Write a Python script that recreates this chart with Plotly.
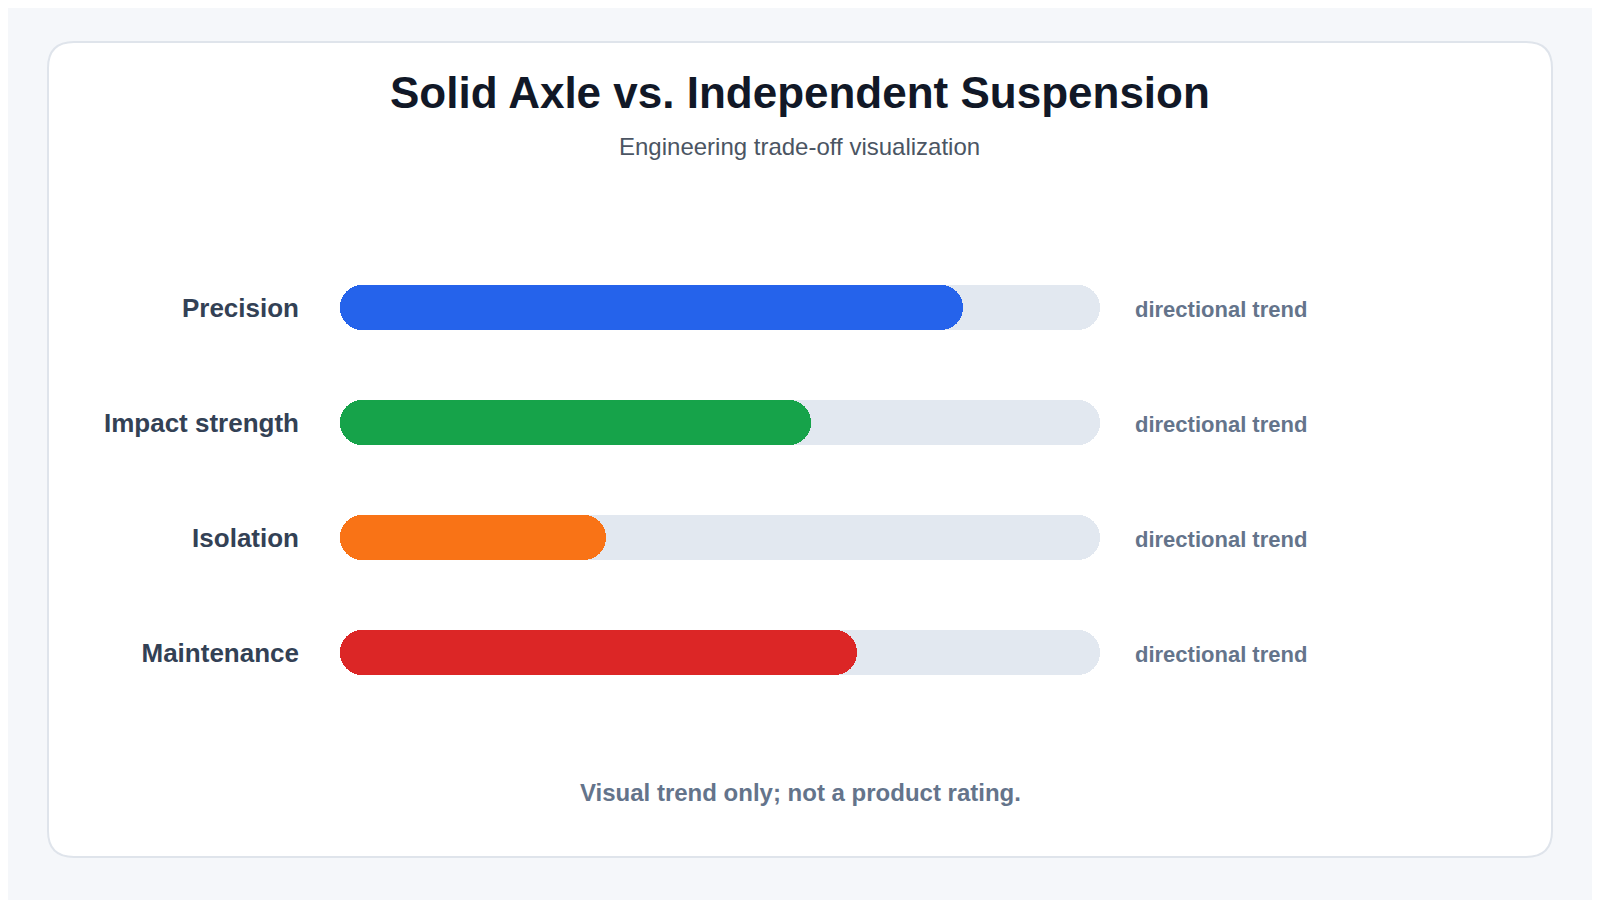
import plotly.graph_objects as go

# Data (share of the track, 0-100)
categories = ["Precision", "Impact strength", "Isolation", "Maintenance"]
values = [82, 62, 35, 68]
colors = ["#2563eb", "#16a34a", "#f97316", "#dc2626"]
side_note = "directional trend"
track_max = 100

title_text = "Solid Axle vs. Independent Suspension"
subtitle_text = "Engineering trade-off visualization"
footer_text = "Visual trend only; not a product rating."

# Layout in page pixels (1600x900 window); the figure sits 8px in from the page corner
W, H = 1600, 900
OFF = 8
PLOT_L, PLOT_R, PLOT_T, PLOT_B = 340, 1100, 250, 710
FONT = "Liberation Sans, Arial, Helvetica, sans-serif"


def px_x(p):
    return (p - PLOT_L) / (PLOT_R - PLOT_L)


def px_y(p):
    return (PLOT_B - p) / (PLOT_B - PLOT_T)


def rounded_rect(x0, y0, x1, y1, r):
    pts = [
        ("M", [(x0 + r, y0)]), ("L", [(x1 - r, y0)]), ("Q", [(x1, y0), (x1, y0 + r)]),
        ("L", [(x1, y1 - r)]), ("Q", [(x1, y1), (x1 - r, y1)]),
        ("L", [(x0 + r, y1)]), ("Q", [(x0, y1), (x0, y1 - r)]),
        ("L", [(x0, y0 + r)]), ("Q", [(x0, y0), (x0 + r, y0)]),
    ]
    path = ""
    for cmd, coords in pts:
        path += cmd + " " + " ".join(f"{px_x(a):.5f},{px_y(b):.5f}" for a, b in coords) + " "
    return path + "Z"


def pill(xvals, color, name):
    # two overlapping halves so both ends get rounded corners
    left = go.Bar(
        y=categories, x=[-0.6 * v for v in xvals], base=[0.6 * v for v in xvals],
        orientation="h", marker=dict(color=color, cornerradius="50%", line=dict(width=0)),
        width=0.39, hoverinfo="skip", showlegend=False, name=name,
    )
    right = go.Bar(
        y=categories, x=[0.6 * v for v in xvals], base=[0.4 * v for v in xvals],
        orientation="h", marker=dict(color=color, cornerradius="50%", line=dict(width=0)),
        width=0.39, hoverinfo="skip", showlegend=False, name=name,
    )
    return [left, right]


fig = go.Figure()

# background tracks
for tr in pill([track_max] * len(categories), "#e2e8f0", "track"):
    fig.add_trace(tr)

# value bars
for i, cat in enumerate(categories):
    v = [values[i] if j == i else 0 for j in range(len(categories))]
    for tr in pill(v, colors[i], cat):
        fig.add_trace(tr)

annotations = [
    dict(text=title_text, x=px_x(800), y=px_y(92), xref="paper", yref="paper",
         showarrow=False, xanchor="center", yanchor="middle",
         font=dict(family=FONT, size=44, color="#111827", weight="bold")),
    dict(text=subtitle_text, x=px_x(799), y=px_y(146), xref="paper", yref="paper",
         showarrow=False, xanchor="center", yanchor="middle",
         font=dict(family=FONT, size=24, color="#4b5563")),
    dict(text=footer_text, x=px_x(800), y=px_y(792), xref="paper", yref="paper",
         showarrow=False, xanchor="center", yanchor="middle",
         font=dict(family=FONT, size=24, color="#64748b", weight="bold")),
]
for cat in categories:
    annotations.append(dict(
        text=side_note, x=1, y=cat, xref="paper", yref="y", xshift=33, yshift=-2,
        showarrow=False, xanchor="left", yanchor="middle",
        font=dict(family=FONT, size=22, color="#64748b", weight="bold"),
    ))

fig.update_layout(
    width=W, height=H,
    margin=dict(l=PLOT_L - OFF, r=W - (PLOT_R - OFF), t=PLOT_T - OFF, b=H - (PLOT_B - OFF), pad=0),
    paper_bgcolor="#f5f7fa",
    plot_bgcolor="rgba(0,0,0,0)",
    barmode="overlay",
    bargap=0,
    showlegend=False,
    annotations=annotations,
    shapes=[dict(
        type="path", xref="paper", yref="paper", layer="below",
        path=rounded_rect(48, 42, 1552, 857, 26),
        fillcolor="#ffffff", line=dict(color="#dfe4eb", width=2),
    )],
    xaxis=dict(range=[0, track_max], visible=False, fixedrange=True),
    yaxis=dict(
        categoryorder="array", categoryarray=categories, autorange="reversed",
        showgrid=False, zeroline=False, showline=False, ticks="",
        ticklabelstandoff=40,
        tickfont=dict(family=FONT, size=26, color="#334155", weight="bold"),
        fixedrange=True,
    ),
)

fig.write_html("out.html")
